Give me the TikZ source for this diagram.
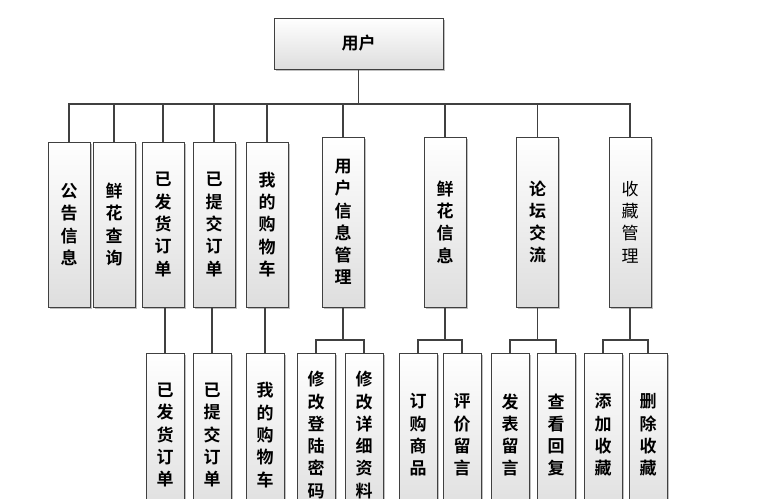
\documentclass[tikz,border=0pt]{standalone}
\usepackage{fontspec}
\newfontfamily\cjk[BoldFont={Noto Sans CJK SC Bold}]{Noto Sans CJK SC}
\usetikzlibrary{shadows}
\usetikzlibrary{calc}

\begin{document}
\begin{tikzpicture}[x=1pt,y=-1pt,
        box/.style={rectangle,draw=black!75,line width=.9pt,top color=white,bottom color=black!13,
          drop shadow={shadow xshift=1.5pt,shadow yshift=-1.5pt,opacity=.25,fill=black},
          inner sep=0pt,align=center,font=\cjk\bfseries\fontsize{17}{22.3}\selectfont},
        upper/.style={box,minimum width=42pt,minimum height=165pt},
        upperr/.style={box,minimum width=42pt,minimum height=170pt},
        lower/.style={box,minimum width=38pt,minimum height=164pt},
        link/.style={draw=black!75,line width=1.1pt}]

        \clip (0,0) rectangle (779,498);
        \useasboundingbox (0,0) rectangle (779,498);

        % top
        \node [box,minimum width=169pt,minimum height=51pt] (user) at (358.5,43.5) {用户};

        % first level
        \node [upper]  (ggxx) at (69,224.5)  {公\\告\\信\\息};
        \node [upper]  (xhcx) at (114,224.5) {鲜\\花\\查\\询};
        \node [upper]  (yfdd) at (163,224.5) {已\\发\\货\\订\\单};
        \node [upper]  (ytdd) at (214,224.5) {已\\提\\交\\订\\单};
        \node [upper]  (wdgw) at (267,224.5) {我\\的\\购\\物\\车};
        \node [upperr] (yhgl) at (343,222)   {用\\户\\信\\息\\管\\理};
        \node [upperr] (xhxx) at (445,222)   {鲜\\花\\信\\息};
        \node [upperr] (ltjl) at (537.5,222) {论\\坛\\交\\流};
        \node [upperr,font=\cjk\fontsize{17}{22.3}\selectfont] (scgl) at (630,222) {收\\藏\\管\\理};

        % second level
        \node [lower] (yfdd2) at (165,435) {已\\发\\货\\订\\单};
        \node [lower] (ytdd2) at (212,435) {已\\提\\交\\订\\单};
        \node [lower] (wdgw2) at (265,435) {我\\的\\购\\物\\车};
        \node [lower] (xgmm)  at (316,435) {修\\改\\登\\陆\\密\\码};
        \node [lower] (xgzl)  at (364,435) {修\\改\\详\\细\\资\\料};
        \node [lower] (dgsp)  at (418,435) {订\\购\\商\\品};
        \node [lower] (pjly)  at (462,435) {评\\价\\留\\言};
        \node [lower] (fbly)  at (510,435) {发\\表\\留\\言};
        \node [lower] (ckhf)  at (556,435) {查\\看\\回\\复};
        \node [lower] (tjsc)  at (603,435) {添\\加\\收\\藏};
        \node [lower] (scsc)  at (648,435) {删\\除\\收\\藏};

        \coordinate (bus) at (358.5,104);
        \coordinate (b1)  at (343,340);
        \coordinate (b2)  at (445,340);
        \coordinate (b3)  at (537.5,340);
        \coordinate (b4)  at (630,340);

        \draw [link] (user.south) -- (bus);
        \draw [link] (ggxx.north) |- (bus);
        \draw [link] (xhcx.north) |- (bus);
        \draw [link] (yfdd.north) |- (bus);
        \draw [link] (ytdd.north) |- (bus);
        \draw [link] (wdgw.north) |- (bus);
        \draw [link] (yhgl.north) |- (bus);
        \draw [link] (xhxx.north) |- (bus);
        \draw [link] (ltjl.north) |- (bus);
        \draw [link] (scgl.north) |- (bus);

        \draw [link] (yfdd2.north) -- (yfdd2.north |- yfdd.south);
        \draw [link] (ytdd2.north) -- (ytdd2.north |- ytdd.south);
        \draw [link] (wdgw2.north) -- (wdgw2.north |- wdgw.south);

        \draw [link] (yhgl.south) -- (b1);
        \draw [link] (xgmm.north) |- (b1);
        \draw [link] (xgzl.north) |- (b1);
        \draw [link] (xhxx.south) -- (b2);
        \draw [link] (dgsp.north) |- (b2);
        \draw [link] (pjly.north) |- (b2);
        \draw [link] (ltjl.south) -- (b3);
        \draw [link] (fbly.north) |- (b3);
        \draw [link] (ckhf.north) |- (b3);
        \draw [link] (scgl.south) -- (b4);
        \draw [link] (tjsc.north) |- (b4);
        \draw [link] (scsc.north) |- (b4);
\end{tikzpicture}
\end{document}
